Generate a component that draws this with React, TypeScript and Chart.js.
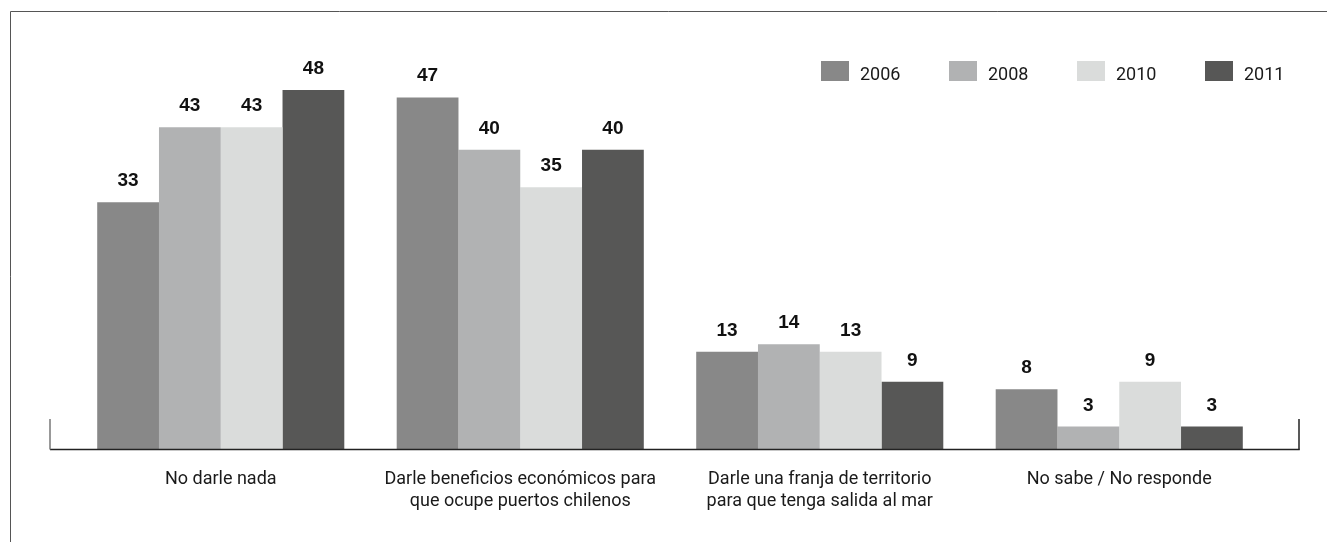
import React, { useEffect, useRef } from "react";
import { Chart, registerables } from "chart.js";

Chart.register(...registerables);

const categories: (string | string[])[] = [
  "No darle nada",
  ["Darle beneficios económicos para", "que ocupe puertos chilenos"],
  ["Darle una franja de territorio", "para que tenga salida al mar"],
  "No sabe / No responde",
];

const seriesNames = ["2006", "2008", "2010", "2011"];
const values2006 = [33, 47, 13, 8];
const values2008 = [43, 40, 14, 3];
const values2010 = [43, 35, 13, 9];
const values2011 = [48, 40, 9, 3];
const seriesColors = ["#888888", "#b1b2b3", "#dadcdb", "#575756"];

const NARROW = "Roboto, 'Liberation Sans', sans-serif";
const BOLD = "'Liberation Sans', Arial, sans-serif";

const decorPlugin = {
  id: "decor",
  afterDraw(chart: any) {
    const ctx = chart.ctx as CanvasRenderingContext2D;
    const area = chart.chartArea;
    const W = chart.width;
    const H = chart.height;
    ctx.save();
    // outer frame (top and left)
    ctx.strokeStyle = "#555555";
    ctx.lineWidth = 1;
    ctx.beginPath();
    ctx.moveTo(10.5, H);
    ctx.lineTo(10.5, 11.5);
    ctx.lineTo(W, 11.5);
    ctx.stroke();
    // baseline
    const base = area.bottom;
    const left = 50;
    const right = 1299;
    ctx.strokeStyle = "#222222";
    ctx.lineWidth = 1.5;
    ctx.beginPath();
    ctx.moveTo(left, base + 0.5);
    ctx.lineTo(right + 0.75, base + 0.5);
    ctx.stroke();
    ctx.strokeStyle = "#777777";
    ctx.beginPath();
    ctx.moveTo(left, base - 30);
    ctx.lineTo(left, base + 0.5);
    ctx.stroke();
    ctx.strokeStyle = "#222222";
    ctx.beginPath();
    ctx.moveTo(right, base - 30);
    ctx.lineTo(right, base + 0.5);
    ctx.stroke();

    // value labels
    ctx.fillStyle = "#111111";
    ctx.font = `bold 19px ${BOLD}`;
    ctx.textAlign = "center";
    ctx.textBaseline = "alphabetic";
    chart.data.datasets.forEach((ds: any, i: number) => {
      const meta = chart.getDatasetMeta(i);
      meta.data.forEach((el: any, j: number) => {
        ctx.fillText(String(ds.data[j]), el.x, el.y - 16);
      });
    });

    // legend
    ctx.font = `18px ${NARROW}`;
    ctx.textAlign = "left";
    ctx.textBaseline = "alphabetic";
    seriesNames.forEach((name, i) => {
      const x = 821 + i * 128;
      ctx.fillStyle = seriesColors[i];
      ctx.fillRect(x, 61, 28, 20);
      ctx.fillStyle = "#1a1a1a";
      ctx.fillText(name, x + 39, 80);
    });
    ctx.restore();
  },
};

export default function App() {
  const ref = useRef<HTMLCanvasElement | null>(null);
  useEffect(() => {
    document.body.style.margin = "0";
    const canvas = ref.current!;
    const seriesValues = [values2006, values2008, values2010, values2011];
    const chart = new Chart(canvas, {
      type: "bar",
      data: {
        labels: categories,
        datasets: seriesNames.map((name, i) => ({
          label: name,
          data: seriesValues[i],
          backgroundColor: seriesColors[i],
          borderWidth: 0,
          categoryPercentage: 0.825,
          barPercentage: 1.0,
        })),
      },
      options: {
        responsive: false,
        animation: false,
        devicePixelRatio: 1,
        layout: { padding: { top: 75, left: 71, right: 58, bottom: 0 } },
        plugins: {
          legend: { display: false },
          tooltip: { enabled: false },
        },
        scales: {
          x: {
            display: true,
            grid: { display: false, drawTicks: false },
            border: { display: false },
            ticks: {
              autoSkip: false,
              maxRotation: 0,
              minRotation: 0,
              padding: 20,
              color: "#1a1a1a",
              font: { family: NARROW, size: 18, lineHeight: 1.22 },
            },
            afterFit: (scale: any) => {
              scale.height = 93;
            },
          },
          y: {
            display: false,
            min: 0,
            max: 50,
          },
        },
      },
      plugins: [decorPlugin],
    });
    return () => chart.destroy();
  }, []);
  return (
    <div style={{ width: 1327, height: 542, background: "#ffffff" }}>
      <canvas ref={ref} width={1327} height={542} style={{ display: "block" }} />
    </div>
  );
}
